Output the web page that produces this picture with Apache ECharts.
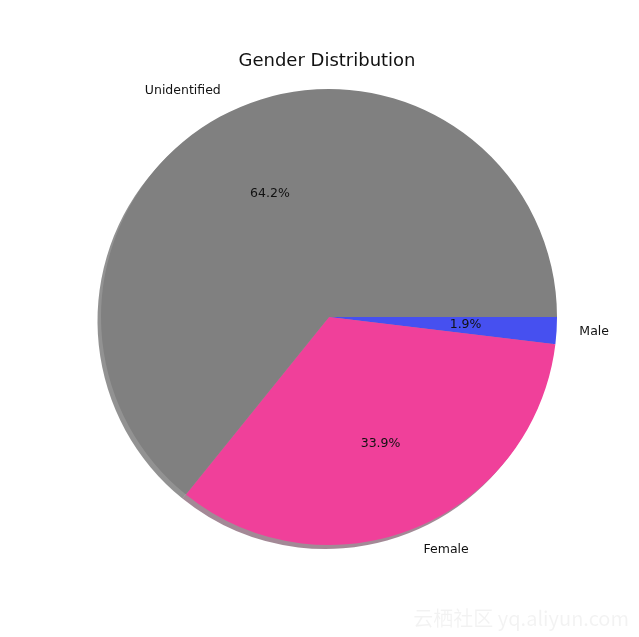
<!DOCTYPE html>
<html>
<head>
<meta charset="utf-8">
<script src="https://cdn.jsdelivr.net/npm/echarts@6/dist/echarts.min.js"></script>
<style>
html,body{margin:0;padding:0;background:#fff;}
#chart{width:639px;height:637px;}
</style>
</head>
<body>
<div id="chart"></div>
<script>
const categories = ['Male', 'Female', 'Unidentified'];
const values = [1.9, 33.9, 64.2];
const titleText = 'Gender Distribution';
const watermarkText = '云栖社区 yq.aliyun.com';

const sliceColors = ['#4650f0', '#f0409a', '#808080'];
function shadowOf(hex) {
  const r = parseInt(hex.slice(1, 3), 16), g = parseInt(hex.slice(3, 5), 16), b = parseInt(hex.slice(5, 7), 16);
  return 'rgba(' + Math.round(r * 0.3) + ',' + Math.round(g * 0.3) + ',' + Math.round(b * 0.3) + ',0.5)';
}

const CX = 329, CY = 317, R = 228;
const FONT = '"DejaVu Sans", sans-serif';

const baseData = categories.map((c, i) => ({ name: c, value: values[i] }));

const chart = echarts.init(document.getElementById('chart'), null, { renderer: 'canvas' });
chart.setOption({
  animation: false,
  backgroundColor: '#ffffff',
  title: {
    text: titleText,
    left: 322,
    top: 47,
    textAlign: 'center',
    textStyle: { fontFamily: FONT, fontSize: 18, fontWeight: 'normal', color: '#111111' }
  },
  graphic: [{
    type: 'text',
    right: 10,
    bottom: 9,
    silent: true,
    style: {
      text: watermarkText,
      font: '20px "Noto Sans CJK SC", "DejaVu Sans", sans-serif',
      fill: 'rgba(0,0,0,0.05)'
    }
  }],
  series: [
    {
      type: 'pie',
      silent: true,
      center: [CX - 3.5, CY + 4],
      radius: [0, R],
      startAngle: 0,
      clockwise: true,
      avoidLabelOverlap: false,
      label: { show: false },
      labelLine: { show: false },
      data: baseData.map((d, i) => ({ name: d.name, value: d.value, itemStyle: { color: shadowOf(sliceColors[i]) } }))
    },
    {
      type: 'pie',
      silent: true,
      center: [CX, CY],
      radius: [0, R],
      startAngle: 0,
      clockwise: true,
      avoidLabelOverlap: false,
      itemStyle: { borderWidth: 0 },
      label: {
        show: true,
        position: 'outside',
        formatter: '{b}',
        fontFamily: FONT,
        fontSize: 12.5,
        color: '#111111',
        distanceToLabelLine: 0
      },
      labelLine: { show: false, length: R * 0.1, length2: 0 },
      data: baseData.map((d, i) => ({ name: d.name, value: d.value, itemStyle: { color: sliceColors[i] } }))
    },
    {
      type: 'pie',
      silent: true,
      center: [CX, CY],
      radius: [0, (0.6 * R - 3) * 2],
      startAngle: 0,
      clockwise: true,
      avoidLabelOverlap: false,
      itemStyle: { color: 'rgba(0,0,0,0)', borderWidth: 0 },
      label: {
        show: true,
        position: 'inside',
        formatter: p => p.value.toFixed(1) + '%',
        fontFamily: FONT,
        fontSize: 12.5,
        color: '#111111'
      },
      labelLine: { show: false },
      data: baseData
    }
  ]
});
</script>
</body>
</html>
